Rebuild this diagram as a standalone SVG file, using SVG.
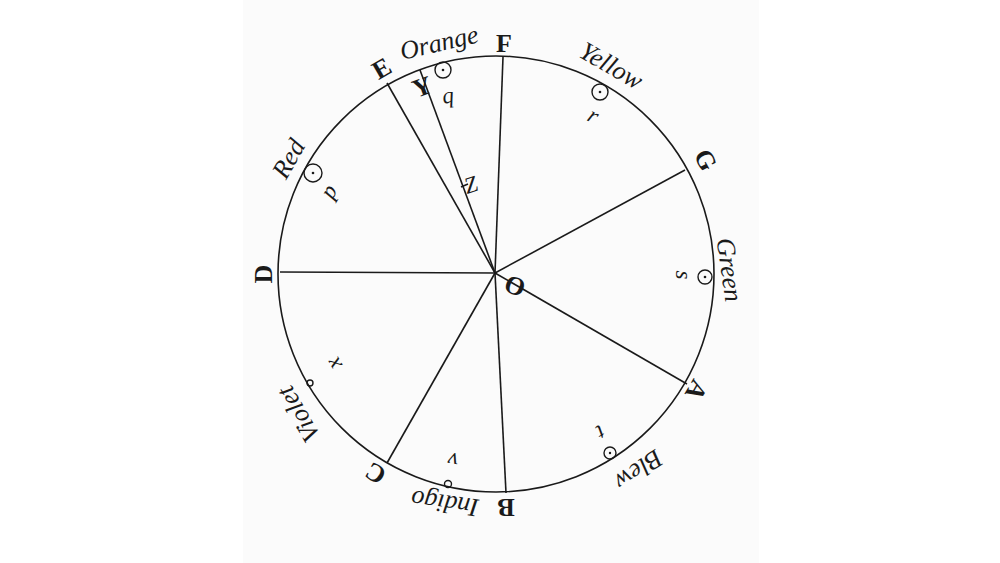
<svg xmlns="http://www.w3.org/2000/svg" width="1000" height="563" viewBox="0 0 1000 563">
<style>
.ln{stroke:#1a1a1a;stroke-width:1.6;fill:none}
.cap{font-family:"Liberation Serif","DejaVu Serif",serif;font-size:26px;font-weight:bold;fill:#1a1a1a;text-anchor:middle}
.col{font-family:"Liberation Serif","DejaVu Serif",serif;font-size:26px;font-style:italic;fill:#1a1a1a;text-anchor:middle}
.sm{font-family:"Liberation Serif","DejaVu Serif",serif;font-size:23px;font-style:italic;fill:#1a1a1a;text-anchor:middle}
.dotc{stroke:#1a1a1a;stroke-width:1.4;fill:none}
</style>
<rect x="0" y="0" width="1000" height="563" fill="#ffffff"/>
<rect x="243" y="0" width="516" height="563" fill="#fbfbfb"/>
<g id="wheel">
<circle class="ln" cx="496" cy="274" r="218"/>
</g>
<g id="connectors">
<line class="ln" x1="495" y1="273" x2="280" y2="272"/>
<line class="ln" x1="495" y1="273" x2="387" y2="83"/>
<line class="ln" x1="495" y1="273" x2="420" y2="70"/>
<line class="ln" x1="495" y1="273" x2="503" y2="57"/>
<line class="ln" x1="495" y1="273" x2="685" y2="170"/>
<line class="ln" x1="495" y1="273" x2="687" y2="384"/>
<line class="ln" x1="495" y1="273" x2="506" y2="493"/>
<line class="ln" x1="495" y1="273" x2="387" y2="463"/>
<line class="ln" x1="461" y1="187" x2="468" y2="184" stroke-width="1.4"/>
</g>
<g id="points">
<circle class="dotc" cx="443" cy="70" r="8"/><circle cx="443" cy="70" r="1.3" fill="#1a1a1a"/>
<circle class="dotc" cx="313" cy="173" r="9"/><circle cx="313" cy="173" r="1.3" fill="#1a1a1a"/>
<circle class="dotc" cx="600" cy="92" r="8"/><circle cx="600" cy="92" r="1.3" fill="#1a1a1a"/>
<circle class="dotc" cx="705" cy="277" r="7"/><circle cx="705" cy="277" r="1.3" fill="#1a1a1a"/>
<circle class="dotc" cx="610" cy="453" r="6"/><circle cx="610" cy="453" r="1.2" fill="#1a1a1a"/>
<circle class="dotc" cx="448" cy="484" r="3.5"/>
<circle class="dotc" cx="310" cy="383" r="3"/>
</g>
<g id="label-F"><text class="cap" x="504" y="52">F</text></g>
<g id="label-E"><text class="cap" transform="translate(386,76) rotate(-30)">E</text></g>
<g id="label-Y"><text class="cap" transform="translate(425,95) rotate(-20)">Y</text></g>
<g id="label-G"><text class="cap" transform="translate(698,164) rotate(62)">G</text></g>
<g id="label-A"><text class="cap" transform="translate(689,386) rotate(120)">A</text></g>
<g id="label-B"><text class="cap" transform="translate(506,499) rotate(180)">B</text></g>
<g id="label-C"><text class="cap" transform="translate(380,466) rotate(211)">C</text></g>
<g id="label-D"><text class="cap" transform="translate(272,274) rotate(-90)">D</text></g>
<g id="label-O"><text class="cap" transform="translate(512,294) rotate(20)">O</text></g>
<g id="label-Orange"><text class="col" transform="translate(441,51) rotate(-13)">Orange</text></g>
<g id="label-Yellow"><text class="col" transform="translate(607,73) rotate(30)">Yellow</text></g>
<g id="label-Green"><text class="col" transform="translate(721,271) rotate(82)">Green</text></g>
<g id="label-Blew"><text class="col" transform="translate(634,463) rotate(146)">Blew</text></g>
<g id="label-Indigo"><text class="col" transform="translate(446,495) rotate(188)">Indigo</text></g>
<g id="label-Violet"><text class="col" transform="translate(306,410) rotate(240)">Violet</text></g>
<g id="label-Red"><text class="col" transform="translate(296,163) rotate(-60)">Red</text></g>
<g id="label-p"><text class="sm" transform="translate(335,195) rotate(-60)">p</text></g>
<g id="label-q"><text class="sm" transform="translate(449,103) rotate(-8)">q</text></g>
<g id="label-r"><text class="sm" transform="translate(590,122) rotate(28)">r</text></g>
<g id="label-s"><text class="sm" transform="translate(676,275) rotate(90)">s</text></g>
<g id="label-t"><text class="sm" transform="translate(597,426) rotate(150)">t</text></g>
<g id="label-v"><text class="sm" transform="translate(454,453) rotate(188)">v</text></g>
<g id="label-x"><text class="sm" transform="translate(340,360) rotate(240)">x</text></g>
<g id="label-Z"><text class="sm" transform="translate(473,192) rotate(-18)">Z</text></g>
</svg>
